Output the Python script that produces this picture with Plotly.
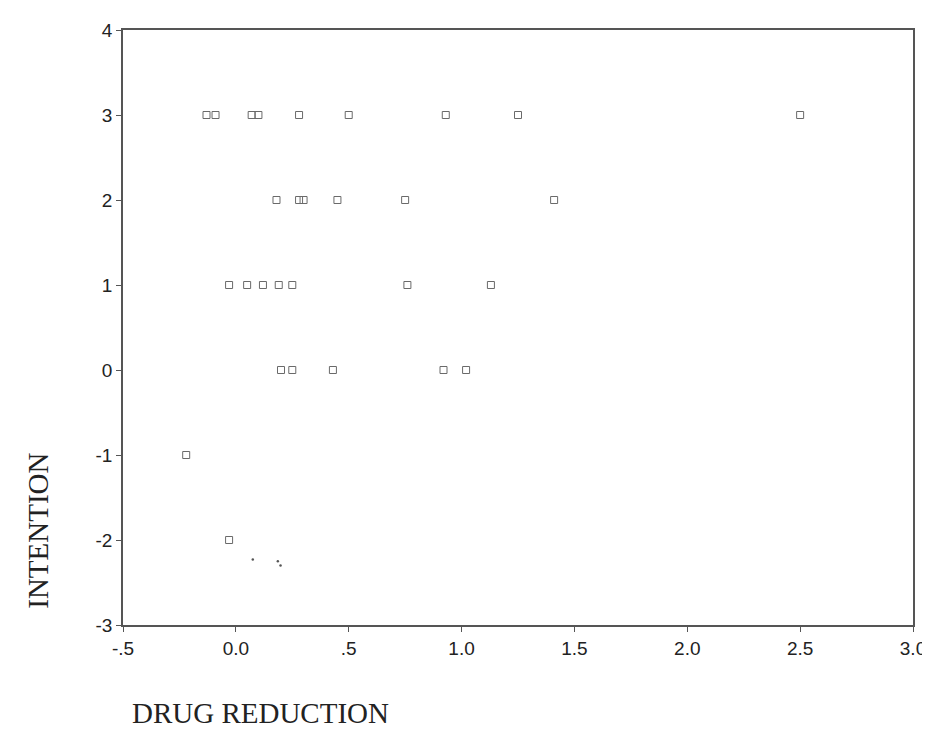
import plotly.graph_objects as go

# Data
drug_reduction = [
    -0.13, -0.09, 0.07, 0.10, 0.28, 0.50, 0.93, 1.25, 2.50,   # intention 3
    0.18, 0.28, 0.30, 0.45, 0.75, 1.41,                       # intention 2
    -0.03, 0.05, 0.12, 0.19, 0.25, 0.76, 1.13,                # intention 1
    0.20, 0.25, 0.43, 0.92, 1.02,                             # intention 0
    -0.22,                                                    # intention -1
    -0.03,                                                    # intention -2
]
intention = [
    3, 3, 3, 3, 3, 3, 3, 3, 3,
    2, 2, 2, 2, 2, 2,
    1, 1, 1, 1, 1, 1, 1,
    0, 0, 0, 0, 0,
    -1,
    -2,
]
# faint specks visible in the scan
speck_x = [0.075, 0.186, 0.198]
speck_y = [-2.23, -2.25, -2.30]

x_tickvals = [-0.5, 0.0, 0.5, 1.0, 1.5, 2.0, 2.5, 3.0]
x_ticktext = ["-.5", "0.0", ".5", "1.0", "1.5", "2.0", "2.5", "3.0"]
y_tickvals = [-3, -2, -1, 0, 1, 2, 3, 4]
y_ticktext = ["-3", "-2", "-1", "0", "1", "2", "3", "4"]

axis_color = "#555555"

fig = go.Figure()
fig.add_trace(go.Scatter(
    x=drug_reduction, y=intention, mode="markers",
    marker=dict(symbol="square-open", size=7, color="#6a6a6a",
                line=dict(width=1, color="#6a6a6a")),
    cliponaxis=False, showlegend=False, hoverinfo="x+y",
))
fig.add_trace(go.Scatter(
    x=speck_x, y=speck_y, mode="markers",
    marker=dict(symbol="circle", size=2.5, color="#555555"),
    showlegend=False, hoverinfo="skip",
))

axis_common = dict(
    showgrid=False, zeroline=False, showline=True, linecolor=axis_color,
    linewidth=1.5, mirror=True, ticks="outside", ticklen=5, tickwidth=1,
    tickcolor=axis_color,
    tickfont=dict(family="Liberation Sans, Arial, sans-serif", size=19, color="#222222"),
)

fig.update_xaxes(range=[-0.5, 3.0], tickmode="array", tickvals=x_tickvals,
                 ticktext=x_ticktext, **axis_common)
fig.update_yaxes(range=[-3, 4], tickmode="array", tickvals=y_tickvals,
                 ticktext=y_ticktext, **axis_common)

title_font = dict(family="Liberation Serif, Times New Roman, serif", size=29, color="#222222")
fig.add_annotation(text="DRUG REDUCTION", xref="paper", yref="paper",
                   x=(122 - 115) / 791, y=-(706 - 617) / 599,
                   xanchor="left", yanchor="middle", showarrow=False, font=title_font)
fig.add_annotation(text="INTENTION", xref="paper", yref="paper",
                   x=-(115 - 30) / 791, y=(617 - 522) / 599, textangle=-90,
                   xanchor="center", yanchor="middle", showarrow=False, font=title_font)

fig.update_layout(
    width=930, height=730,
    margin=dict(l=115, r=24, t=18, b=113),
    paper_bgcolor="white", plot_bgcolor="white",
)

fig.write_html("out.html")
